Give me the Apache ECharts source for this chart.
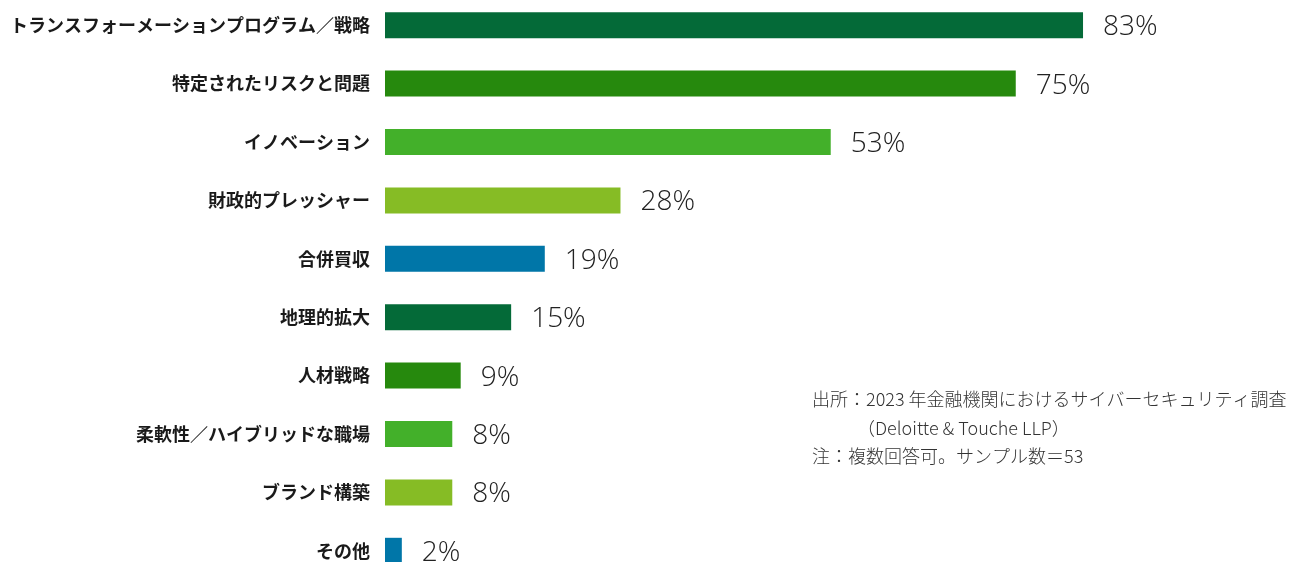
<!DOCTYPE html>
<html>
<head>
<meta charset="utf-8">
<script src="https://cdn.jsdelivr.net/npm/echarts@6/dist/echarts.min.js"></script>
<style>
  html, body { margin: 0; padding: 0; background: #ffffff; }
  #chart { width: 1302px; height: 562px; }
</style>
</head>
<body>
<div id="chart"></div>
<script>
// Drivers of cybersecurity investment (share of respondents, %)
const categories = [
  'トランスフォーメーションプログラム／戦略',
  '特定されたリスクと問題',
  'イノベーション',
  '財政的プレッシャー',
  '合併買収',
  '地理的拡大',
  '人材戦略',
  '柔軟性／ハイブリッドな職場',
  'ブランド構築',
  'その他'
];
const values = [83, 75, 53, 28, 19, 15, 9, 8, 8, 2];
const barColors = ['#046A38', '#26890D', '#43B02A', '#86BC25', '#0076A8',
                   '#046A38', '#26890D', '#43B02A', '#86BC25', '#0076A8'];
const noteLines = [
  '出所：2023 年金融機関におけるサイバーセキュリティ調査',
  '\u3000\u3000\u3000（Deloitte & Touche LLP）',
  '注：複数回答可。サンプル数＝53'
];

const chart = echarts.init(document.getElementById('chart'), null, { renderer: 'canvas' });

chart.setOption({
  backgroundColor: '#ffffff',
  animation: false,
  grid: {
    left: 385, top: -4, height: 584, width: 841,
    containLabel: false,
    outerBoundsMode: 'none'
  },
  xAxis: {
    type: 'value', min: 0, max: 100,
    show: false
  },
  yAxis: {
    type: 'category',
    data: categories,
    inverse: true,
    axisLine: { show: false },
    axisTick: { show: false },
    axisLabel: {
      margin: 15,
      fontSize: 18,
      fontWeight: 'bold',
      color: '#1a1a1a',
      fontFamily: '"Noto Sans CJK JP", "Noto Sans", sans-serif'
    }
  },
  title: {
    text: noteLines.join('\n'),
    left: 812,
    top: 385,
    padding: 0,
    textStyle: {
      fontSize: 18,
      fontWeight: 300,
      color: '#333333',
      lineHeight: 28.5,
      fontFamily: '"Noto Sans CJK JP", "Open Sans", sans-serif'
    }
  },
  series: [{
    type: 'bar',
    barWidth: 26,
    data: values.map((v, i) => ({ value: v, itemStyle: { color: barColors[i] } })),
    label: {
      show: true,
      position: 'right',
      distance: 20,
      offset: [0, 2],
      formatter: '{c}%',
      fontSize: 28,
      fontWeight: 300,
      color: '#222222',
      fontFamily: '"Open Sans", "Noto Sans", sans-serif'
    }
  }]
});
</script>
</body>
</html>
